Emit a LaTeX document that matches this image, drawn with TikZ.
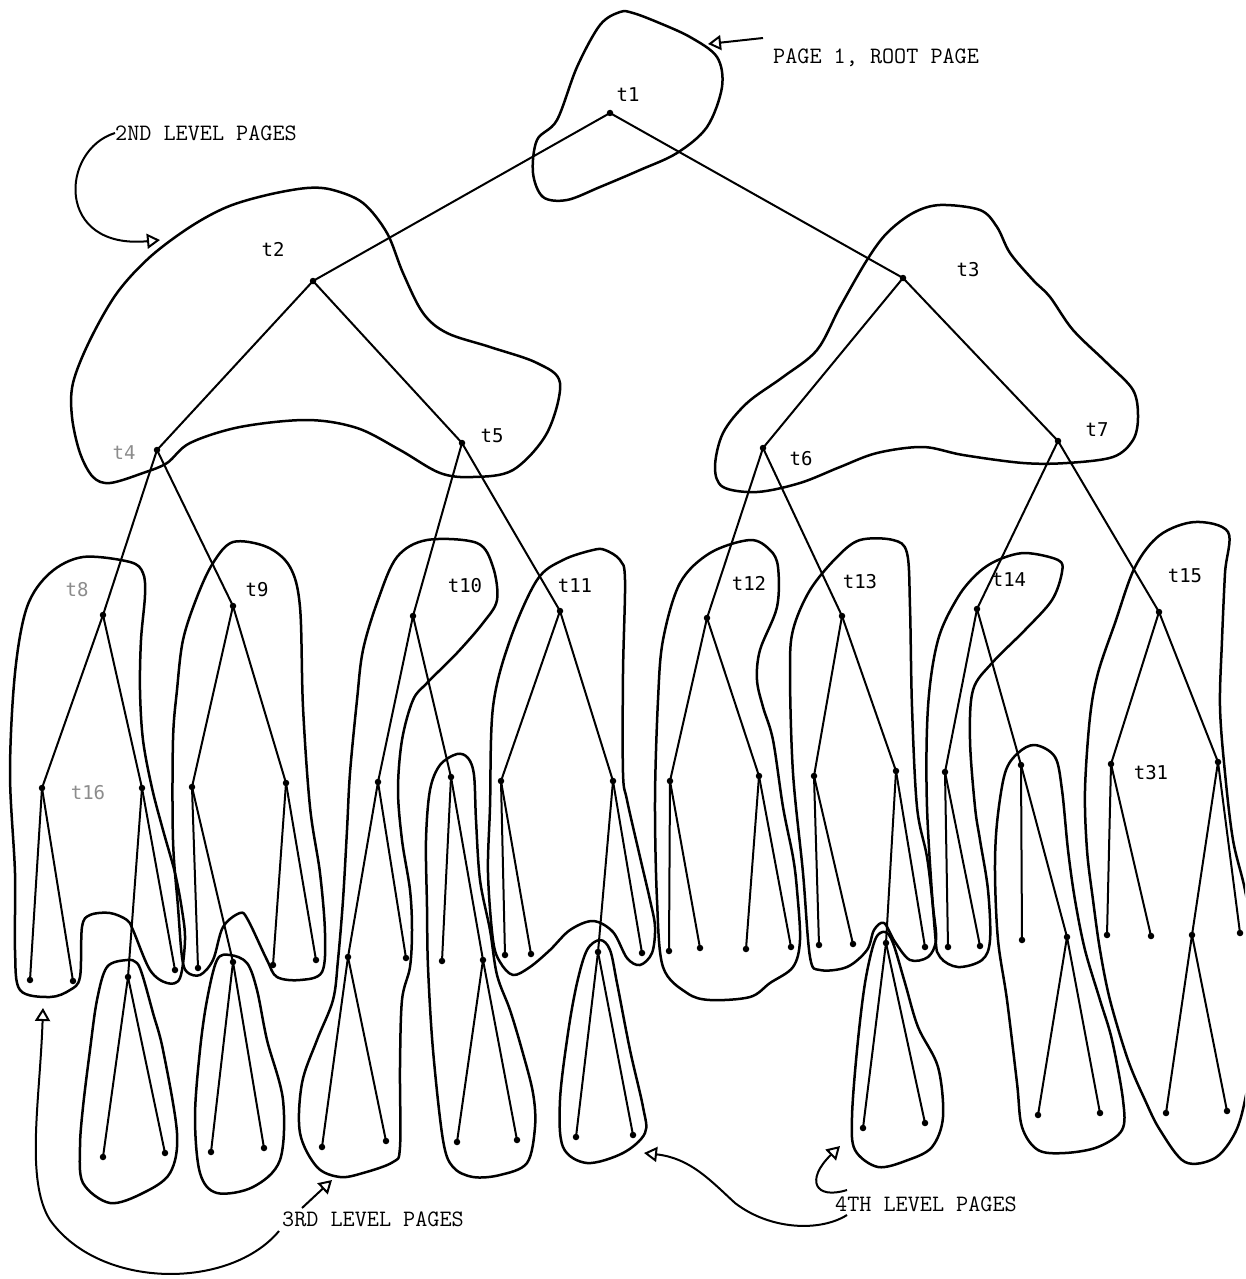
\documentclass[tikz,border=0pt]{standalone}
\usepackage{fontspec}
\newfontfamily\plotfont{DejaVu Sans Mono}
\usetikzlibrary{arrows.meta}
\begin{document}
\begin{tikzpicture}[x=1pt,y=-1pt,
  dot/.style={circle,fill=black,inner sep=0pt,minimum size=6.5pt},
  edge/.style={line width=2pt},
  pageline/.style={line width=2.5pt,line join=round},
  tlab/.style={font=\plotfont\fontsize{19}{19}\selectfont,inner sep=0pt},
  faint/.style={text=black!45},
  caption/.style={font=\ttfamily\fontsize{23.5}{24}\selectfont,inner sep=0pt,anchor=west},
  pointer/.style={line width=2pt,-{Triangle[open,length=13pt,width=15pt]}},
]
\useasboundingbox (0,0) rectangle (1245,1279);
\clip (0,0) rectangle (1245,1279);

% ---------------- tree nodes ----------------
\node[dot] (r) at (610,113) {};
\node[dot] (a2) at (313,281) {};
\node[dot] (a3) at (903,278) {};
\node[dot] (a4) at (157,450) {};
\node[dot] (a5) at (462,443) {};
\node[dot] (a6) at (763,448) {};
\node[dot] (a7) at (1058,441) {};
\node[dot] (a8) at (103,615) {};
\node[dot] (a9) at (233,606) {};
\node[dot] (a10) at (413,616) {};
\node[dot] (a11) at (560,611) {};
\node[dot] (a12) at (707,618) {};
\node[dot] (a13) at (842,616) {};
\node[dot] (a14) at (977,609) {};
\node[dot] (a15) at (1159,612) {};
\node[dot] (b16) at (42,788) {};
\node[dot] (b17) at (142,788) {};
\node[dot] (b18) at (192,787) {};
\node[dot] (b19) at (286,783) {};
\node[dot] (b20) at (378,782) {};
\node[dot] (b21) at (451,777) {};
\node[dot] (b22) at (501,781) {};
\node[dot] (b23) at (613,781) {};
\node[dot] (b24) at (670,781) {};
\node[dot] (b25) at (759,776) {};
\node[dot] (b26) at (814,776) {};
\node[dot] (b27) at (896,771) {};
\node[dot] (b28) at (945,772) {};
\node[dot] (b29) at (1021,765) {};
\node[dot] (b30) at (1111,764) {};
\node[dot] (b31) at (1218,762) {};
\node[dot] (c1) at (30,980) {};
\node[dot] (c2) at (73,981) {};
\node[dot] (c3) at (128,977) {};
\node[dot] (c4) at (175,970) {};
\node[dot] (c5) at (198,968) {};
\node[dot] (c6) at (233,962) {};
\node[dot] (c7) at (273,965) {};
\node[dot] (c8) at (316,960) {};
\node[dot] (c9) at (348,957) {};
\node[dot] (c10) at (406,958) {};
\node[dot] (c11) at (442,961) {};
\node[dot] (c12) at (483,960) {};
\node[dot] (c13) at (505,955) {};
\node[dot] (c14) at (531,954) {};
\node[dot] (c15) at (598,952) {};
\node[dot] (c16) at (642,953) {};
\node[dot] (c17) at (669,951) {};
\node[dot] (c18) at (700,948) {};
\node[dot] (c19) at (746,949) {};
\node[dot] (c20) at (791,947) {};
\node[dot] (c21) at (819,945) {};
\node[dot] (c22) at (853,944) {};
\node[dot] (c23) at (886,943) {};
\node[dot] (c24) at (925,947) {};
\node[dot] (c25) at (948,947) {};
\node[dot] (c26) at (980,946) {};
\node[dot] (c27) at (1022,940) {};
\node[dot] (c28) at (1067,937) {};
\node[dot] (c29) at (1107,935) {};
\node[dot] (c30) at (1151,936) {};
\node[dot] (c31) at (1192,935) {};
\node[dot] (c32) at (1240,933) {};
\node[dot] (d1) at (103,1157) {};
\node[dot] (d2) at (165,1153) {};
\node[dot] (d3) at (211,1152) {};
\node[dot] (d4) at (264,1148) {};
\node[dot] (d5) at (322,1147) {};
\node[dot] (d6) at (386,1141) {};
\node[dot] (d7) at (457,1142) {};
\node[dot] (d8) at (517,1140) {};
\node[dot] (d9) at (576,1137) {};
\node[dot] (d10) at (633,1135) {};
\node[dot] (d11) at (863,1128) {};
\node[dot] (d12) at (925,1123) {};
\node[dot] (d13) at (1038,1115) {};
\node[dot] (d14) at (1100,1113) {};
\node[dot] (d15) at (1166,1113) {};
\node[dot] (d16) at (1227,1111) {};

% ---------------- edges ----------------
\foreach \p/\c in {r/a2, r/a3, a2/a4, a2/a5, a3/a6, a3/a7,
  a4/a8, a4/a9, a5/a10, a5/a11, a6/a12, a6/a13, a7/a14, a7/a15,
  a8/b16, a8/b17, a9/b18, a9/b19, a10/b20, a10/b21, a11/b22, a11/b23,
  a12/b24, a12/b25, a13/b26, a13/b27, a14/b28, a14/b29, a15/b30, a15/b31,
  b16/c1, b16/c2, b17/c3, b17/c4, b18/c5, b18/c6, b19/c7, b19/c8,
  b20/c9, b20/c10, b21/c11, b21/c12, b22/c13, b22/c14, b23/c15, b23/c16,
  b24/c17, b24/c18, b25/c19, b25/c20, b26/c21, b26/c22, b27/c23, b27/c24,
  b28/c25, b28/c26, b29/c27, b29/c28, b30/c29, b30/c30, b31/c31, b31/c32,
  c3/d1, c3/d2, c6/d3, c6/d4, c9/d5, c9/d6, c12/d7, c12/d8,
  c15/d9, c15/d10, c23/d11, c23/d12, c28/d13, c28/d14, c31/d15, c31/d16}
  \draw[edge] (\p.center) -- (\c.center);

% ---------------- pages (outlines) ----------------
% root page
\draw[pageline] plot[smooth cycle,tension=0.55] coordinates {
 (620,12) (600,25) (577,67) (557,120) (537,140) (533,173) (543,197) (567,200)
 (600,187) (640,170) (677,153) (707,127) (722,87) (717,57) (690,37) (657,22) (633,13)};
% 2nd level, left
\draw[pageline] plot[smooth cycle,tension=0.55] coordinates {
 (307,188) (267,195) (227,207) (190,227) (150,257) (117,293) (90,340) (73,383)
 (72,417) (80,453) (93,477) (110,483) (143,473) (167,463) (190,443) (240,427)
 (307,420) (357,428) (400,450) (440,473) (473,477) (513,470) (547,433) (560,383)
 (537,363) (490,347) (447,333) (423,313) (403,273) (387,233) (363,203) (333,190)};
% 2nd level, right
\draw[pageline] plot[smooth cycle,tension=0.55] coordinates {
 (940,205) (980,210) (997,227) (1010,253) (1033,280) (1050,297) (1073,330) (1107,363)
 (1133,390) (1138,417) (1133,440) (1113,457) (1067,463) (1023,463) (963,455) (923,447)
 (877,453) (840,467) (800,483) (757,492) (723,487) (715,467) (723,433) (747,403)
 (783,377) (817,350) (840,307) (867,260) (887,233) (913,213)};
% t8 page
\draw[pageline] plot[smooth cycle,tension=0.55] coordinates {
 (143,573) (130,562) (83,557) (50,573) (27,607) (15,673) (10,773) (15,873) (15,950)
 (20,990) (50,997) (70,990) (80,977) (82,927) (90,915) (110,913) (127,920) (133,930)
 (150,970) (167,983) (180,978) (185,940) (182,910) (175,873) (163,830) (152,788)
 (143,740) (140,690) (141,640) (145,595)};
% page of c3
\draw[pageline] plot[smooth cycle,tension=0.55] coordinates {
 (127,960) (107,967) (97,1000) (90,1050) (83,1107) (80,1147) (83,1183) (110,1203)
 (143,1193) (170,1173) (177,1133) (163,1050) (153,1013) (143,977) (137,963)};
% t9 page
\draw[pageline] plot[smooth cycle,tension=0.55] coordinates {
 (233,542) (213,563) (197,597) (183,640) (177,690) (173,740) (173,840) (178,907)
 (182,957) (187,972) (200,975) (213,960) (223,927) (240,913) (248,920) (267,960)
 (277,977) (300,980) (322,972) (325,933) (320,873) (310,807) (303,707) (300,607)
 (290,567) (267,547)};
% page of c6
\draw[pageline] plot[smooth cycle,tension=0.55] coordinates {
 (230,955) (217,960) (207,1000) (200,1050) (195,1117) (200,1173) (217,1193) (253,1187)
 (280,1160) (283,1100) (267,1040) (257,990) (247,963)};
% t10 page
\draw[pageline] plot[smooth cycle,tension=0.55] coordinates {
 (427,540) (477,543) (493,567) (497,600) (483,623) (457,653) (427,683) (413,700)
 (402,740) (398,790) (402,840) (410,890) (412,930) (410,967) (402,1000) (400,1067)
 (400,1147) (393,1162) (363,1173) (340,1177) (317,1167) (300,1133) (302,1083)
 (317,1040) (333,1000) (338,960) (343,900) (347,830) (350,773) (357,700) (363,650)
 (378,600) (397,557)};
% page of b21
\draw[pageline] plot[smooth cycle,tension=0.55] coordinates {
 (457,754) (440,765) (430,790) (426,840) (427,907) (428,967) (433,1050) (443,1140)
 (453,1167) (473,1177) (500,1175) (527,1163) (535,1127) (533,1093) (522,1050)
 (510,1010) (497,975) (490,930) (480,880) (476,820) (474,775) (468,758)};
% t11 page
\draw[pageline] plot[smooth cycle,tension=0.55] coordinates {
 (593,550) (563,560) (537,580) (510,640) (493,707) (490,807) (488,873) (493,940)
 (500,962) (513,975) (530,967) (550,950) (570,930) (593,921) (613,932) (627,958)
 (640,965) (652,953) (655,927) (650,900) (640,857) (627,800) (623,773) (623,673)
 (625,580) (620,560) (605,550)};
% page of c15
\draw[pageline] plot[smooth cycle,tension=0.55] coordinates {
 (600,940) (587,950) (577,983) (568,1033) (560,1100) (563,1147) (587,1163) (623,1153)
 (645,1133) (643,1107) (630,1050) (617,983) (610,950)};
% t12 page
\draw[pageline] plot[smooth cycle,tension=0.55] coordinates {
 (750,540) (770,550) (778,567) (777,607) (760,650) (757,680) (763,707) (773,740)
 (783,807) (793,857) (797,890) (800,940) (793,967) (770,983) (750,997) (710,1000)
 (687,993) (663,967) (657,900) (655,800) (658,700) (663,640) (680,583) (710,553)};
% t13 page
\draw[pageline] plot[smooth cycle,tension=0.55] coordinates {
 (860,540) (893,540) (907,553) (910,607) (912,707) (917,807) (927,857) (933,907)
 (936,940) (928,957) (910,960) (895,942) (884,923) (874,930) (867,950) (847,967)
 (820,970) (810,957) (803,873) (793,773) (790,673) (793,630) (810,590) (837,557)};
% page of c23
\draw[pageline] plot[smooth cycle,tension=0.55] coordinates {
 (885,932) (875,940) (865,983) (857,1050) (852,1117) (855,1150) (878,1167) (908,1160)
 (932,1147) (943,1117) (938,1067) (918,1027) (905,983) (893,943)};
% t14 page
\draw[pageline] plot[smooth cycle,tension=0.55] coordinates {
 (998,560) (1025,553) (1058,560) (1062,572) (1052,600) (1025,630) (992,663) (973,690)
 (970,740) (975,807) (980,840) (988,890) (990,940) (982,960) (958,967) (940,957)
 (935,933) (927,807) (928,707) (938,640) (958,597) (978,573)};
% page of b29
\draw[pageline] plot[smooth cycle,tension=0.55] coordinates {
 (1035,745) (1018,753) (1005,773) (997,823) (995,873) (998,940) (1007,1000) (1017,1083)
 (1022,1127) (1038,1150) (1065,1153) (1098,1147) (1122,1130) (1123,1100) (1112,1040)
 (1100,1000) (1085,950) (1075,900) (1068,850) (1062,790) (1055,757)};
% t15 page
\draw[pageline] plot[smooth cycle,tension=0.55] coordinates {
 (1160,535) (1195,522) (1228,532) (1225,573) (1222,640) (1220,707) (1225,773)
 (1233,840) (1245,890) (1252,940) (1252,1050) (1245,1100) (1235,1133) (1215,1158)
 (1185,1162) (1160,1130) (1145,1100) (1128,1060) (1110,1000) (1100,950) (1093,900)
 (1087,850) (1085,790) (1090,717) (1098,673) (1115,623) (1135,567)};

% ---------------- node labels ----------------
\node[tlab] (lt1) at (628,95) {t1};
\node[tlab] (lt2) at (273,249) {t2};
\node[tlab] (lt3) at (968,270) {t3};
\node[tlab,faint] (lt4) at (124,453) {t4};
\node[tlab] (lt5) at (492,436) {t5};
\node[tlab] (lt6) at (801,459) {t6};
\node[tlab] (lt7) at (1097,430) {t7};
\node[tlab,faint] (lt8) at (77,590) {t8};
\node[tlab] (lt9) at (257,590) {t9};
\node[tlab] (lt10) at (465,586) {t10};
\node[tlab] (lt11) at (575,586) {t11};
\node[tlab] (lt12) at (749,583) {t12};
\node[tlab] (lt13) at (860,582) {t13};
\node[tlab] (lt14) at (1009,580) {t14};
\node[tlab] (lt15) at (1185,576) {t15};
\node[tlab,faint] (lt16) at (88,793) {t16};
\node[tlab] (lt31) at (1151,773) {t31};

% ---------------- captions and pointers ----------------
\node[caption] (cap1) at (773,58) {PAGE 1, ROOT PAGE};
\node[caption] (cap2) at (115,133) {2ND LEVEL PAGES};
\node[caption] (cap3) at (282,1219) {3RD LEVEL PAGES};
\node[caption] (cap4) at (835,1204) {4TH LEVEL PAGES};

\coordinate (rootTail) at (763,38);
\coordinate (rootTip) at (708,44);
\draw[pointer] (rootTail) -- (rootTip);

\coordinate (tip2) at (160,240);
\draw[pointer] (cap2.west) .. controls (60,150) and (55,250) .. (tip2);

\coordinate (s3a) at (279,1231);
\coordinate (tip3a) at (43,1008);
\draw[pointer] (s3a) .. controls (230,1290) and (100,1290) .. (50,1220)
  .. controls (25,1180) and (40,1100) .. (tip3a);
\coordinate (s3b) at (302,1208);
\coordinate (tip3b) at (332,1180);
\draw[pointer] (s3b) -- (tip3b);

\coordinate (s4a) at (847,1215);
\coordinate (tip4a) at (644,1153);
\draw[pointer] (s4a) .. controls (820,1232) and (770,1230) .. (735,1203)
  .. controls (710,1180) and (690,1158) .. (tip4a);
\coordinate (s4b) at (847,1190);
\coordinate (tip4b) at (840,1146);
\draw[pointer] (s4b) .. controls (815,1200) and (805,1180) .. (tip4b);
\end{tikzpicture}
\end{document}
